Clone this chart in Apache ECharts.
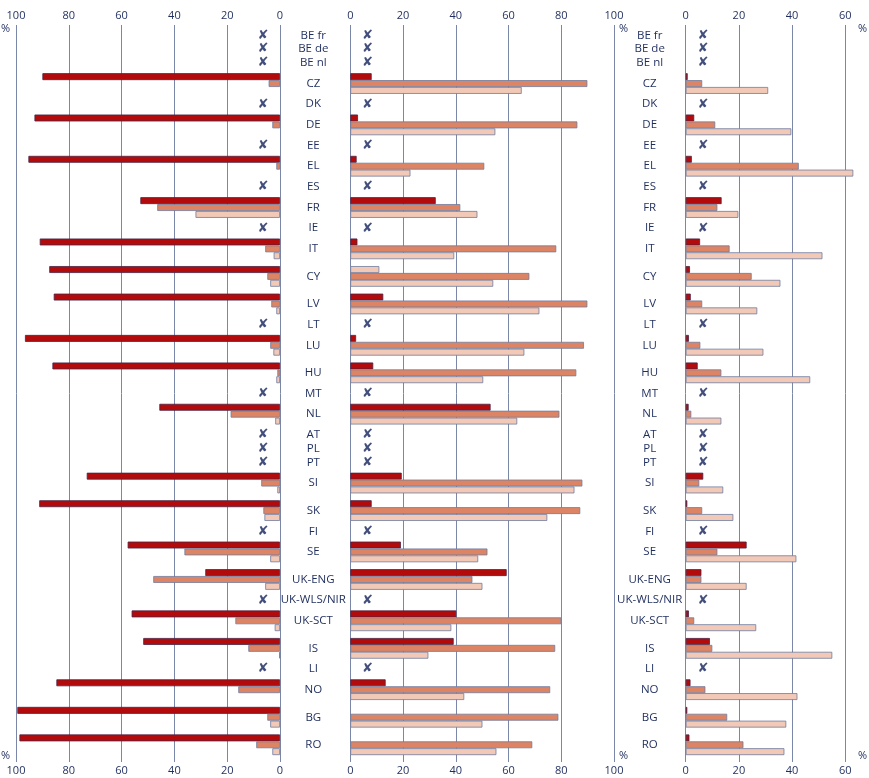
<!DOCTYPE html>
<html>
<head>
<meta charset="utf-8">
<script src="https://cdn.jsdelivr.net/npm/echarts@6/dist/echarts.min.js"></script>
<style>html,body{margin:0;padding:0;background:#fff}#c{width:869px;height:778px}</style>
</head>
<body>
<div id="c"></div>
<script>
// ---- categories ----
const countries = ['BE fr','BE de','BE nl','CZ','DK','DE','EE','EL','ES','FR','IE','IT','CY','LV','LT','LU','HU','MT','NL','AT','PL','PT','SI','SK','FI','SE','UK-ENG','UK-WLS/NIR','UK-SCT','IS','LI','NO','BG','RO'];
// row layout (slot index of each country's label row)
const rowSlot = [0,2,4,7,10,13,16,19,22,25,28,31,35,39,42,45,49,52,55,58,60,62,65,69,72,75,79,82,85,89,92,95,99,103];

// ---- left panel (reversed axis 100..0) ----
const leftDark  = [null,null,null,90,null,93,null,95.3,null,52.9,null,91,87.4,85.7,null,96.6,86.2,null,45.7,null,null,null,73.2,91.2,null,57.7,28.3,null,56.2,51.8,null,84.7,99.5,98.7];
const leftMid   = [null,null,null,4.3,null,2.9,null,1.4,null,46.5,null,5.6,4.8,3.3,null,3.7,1.0,null,18.7,null,null,null,7.1,6.3,null,36.2,48,null,16.9,12,null,15.8,4.8,9];
const leftLight = [null,null,null,0,null,0,null,0,null,32,null,2.4,3.7,1.4,null,2.5,1.4,null,1.8,null,null,null,1.0,5.9,null,3.7,5.6,null,2.0,0.3,null,0,3.7,2.9];

// ---- middle panel (0..100) ----
const midDark  = [null,null,null,8.1,null,2.9,null,2.4,null,32.4,null,2.7,11,12.5,null,2.2,8.7,null,53.2,null,null,null,19.5,8.1,null,19.2,59.3,null,40.2,39.2,null,13.4,0,0];
const midMid   = [null,null,null,89.9,null,86.1,null,50.8,null,41.7,null,78.1,67.9,89.9,null,88.6,85.7,null,79.3,null,null,null,88,87.2,null,52,46.3,null,80,77.7,null,75.8,78.9,69];
const midLight = [null,null,null,65,null,55,null,22.8,null,48.2,null,39.4,54.2,71.7,null,66,50.4,null,63.3,null,null,null,85,74.7,null,48.5,50.1,null,38.3,29.6,null,43.2,50.1,55.4];
const midFirstBarLight = ['CY']; // first bar drawn in the light shade

// ---- right panel (0..60) ----
const rightDark  = [null,null,null,0.75,null,3.2,null,2.3,null,13.5,null,5.4,1.6,1.9,null,1.2,4.5,null,1.1,null,null,null,6.6,0.6,null,22.9,5.9,null,1.2,9.1,null,1.8,0.6,1.4];
const rightMid   = [null,null,null,6.2,null,11.1,null,42.5,null,11.9,null,16.5,24.8,6.2,null,5.5,13.4,null,2.1,null,null,null,5.1,6.2,null,11.9,5.9,null,3.2,10,null,7.4,15.6,21.7];
const rightLight = [null,null,null,31,null,39.7,null,63,null,19.8,null,51.4,35.6,26.9,null,29.2,46.8,null,13.4,null,null,null,14.1,17.9,null,41.6,22.9,null,26.5,55.1,null,42,37.8,37.1];

const ticksLR = [0,20,40,60,80,100];
const ticksRight = [0,20,40,60];
const noDataMarkValue = 6.5;

// ---- build ----
const SLOTS = 107, OFF = 1;
const cats = new Array(SLOTS).fill('');
countries.forEach((c,i)=>{ cats[rowSlot[i]+OFF] = c; });

const C_DARK = '#b30b0b', C_MID = '#dc8464', C_LIGHT = '#f2c9b7';
const B_DARK = '#4a2445', B_OTHER = '#6e7ca0';
const GRID_C = '#7a87a8';
const TXT = '#1f2e5e';
const FONT = '"Open Sans", "Noto Sans", sans-serif';

function seriesData(arr, shift, override){
  const d = new Array(SLOTS).fill(null);
  arr.forEach((v,i)=>{
    if(v===null || v===0) return;
    const idx = rowSlot[i]+OFF+shift;
    if(override && override.indexOf(countries[i])>=0){
      d[idx] = {value:v, itemStyle:{color:C_LIGHT, borderColor:B_OTHER}};
    } else d[idx] = v;
  });
  return d;
}
function marks(a,b,c){
  const d=[];
  countries.forEach((n,i)=>{ if(a[i]===null && b[i]===null && c[i]===null) d.push([noDataMarkValue, rowSlot[i]+OFF]); });
  return d;
}
function bars(gi, dark, mid, light, override){
  const common = {type:'bar', xAxisIndex:gi*2, yAxisIndex:gi, barGap:'-100%', barCategoryGap:'0%', clip:false, silent:true, animation:false};
  return [
    Object.assign({}, common, {data:seriesData(dark,-1,override), itemStyle:{color:C_DARK, borderColor:B_DARK, borderWidth:0.8}}),
    Object.assign({}, common, {data:seriesData(mid,0), itemStyle:{color:C_MID, borderColor:B_OTHER, borderWidth:0.8}}),
    Object.assign({}, common, {data:seriesData(light,1), itemStyle:{color:C_LIGHT, borderColor:B_OTHER, borderWidth:0.8}}),
    {type:'scatter', xAxisIndex:gi*2, yAxisIndex:gi, data:marks(dark,mid,light), symbol:'circle', symbolSize:2,
     itemStyle:{color:'rgba(0,0,0,0)'}, silent:true, animation:false, z:5,
     label:{show:true, position:'inside', formatter:'✘', color:'#13225a', fontSize:13, fontWeight:'bold', fontFamily:'DejaVu Sans'}}
  ];
}

const grids = [
  {left:16, top:25, width:264, height:737},
  {left:350.3, top:25, width:263.7, height:737},
  {left:685.7, top:25, width:159.6, height:737}
];
function xAxes(gi, max, inverse){
  const lbl = {color:TXT, fontSize:11, fontFamily:FONT};
  return [
    {type:'value', gridIndex:gi, min:0, max:max, interval:20, inverse:inverse, position:'top',
     axisLine:{show:false}, axisTick:{show:false}, axisLabel:Object.assign({margin:4},lbl),
     splitLine:{show:true, lineStyle:{color:GRID_C, width:1}}},
    {type:'value', gridIndex:gi, min:0, max:max, interval:20, inverse:inverse, position:'bottom',
     axisLine:{show:false}, axisTick:{show:false}, axisLabel:Object.assign({margin:3},lbl),
     splitLine:{show:false}}
  ];
}
function yAxis(gi, showLabels, margin){
  return {type:'category', gridIndex:gi, data:cats, inverse:true,
    axisLine:{show:false}, axisTick:{show:false}, splitLine:{show:false},
    axisLabel:{show:showLabels, interval:0, align:'center', margin:margin, color:TXT, fontSize:11.5, fontFamily:FONT}};
}

const pct = (x,y)=>({type:'text', left:x, top:y, style:{text:'%', fill:TXT, font:'11px "Open Sans", sans-serif'}});

const chart = echarts.init(document.getElementById('c'), null, {renderer:'canvas'});
chart.setOption({
  animation:false,
  grid: grids,
  xAxis: [].concat(xAxes(0,100,true), xAxes(1,100,false), xAxes(2,60,false)),
  yAxis: [yAxis(0,false,0), yAxis(1,true,37), yAxis(2,true,36)],
  series: [].concat(bars(0,leftDark,leftMid,leftLight), bars(1,midDark,midMid,midLight,midFirstBarLight), bars(2,rightDark,rightMid,rightLight)),
  graphic: [pct(1,23), pct(1,750), pct(619,23), pct(619,750), pct(858,23), pct(858,750)]
});
</script>
</body>
</html>
